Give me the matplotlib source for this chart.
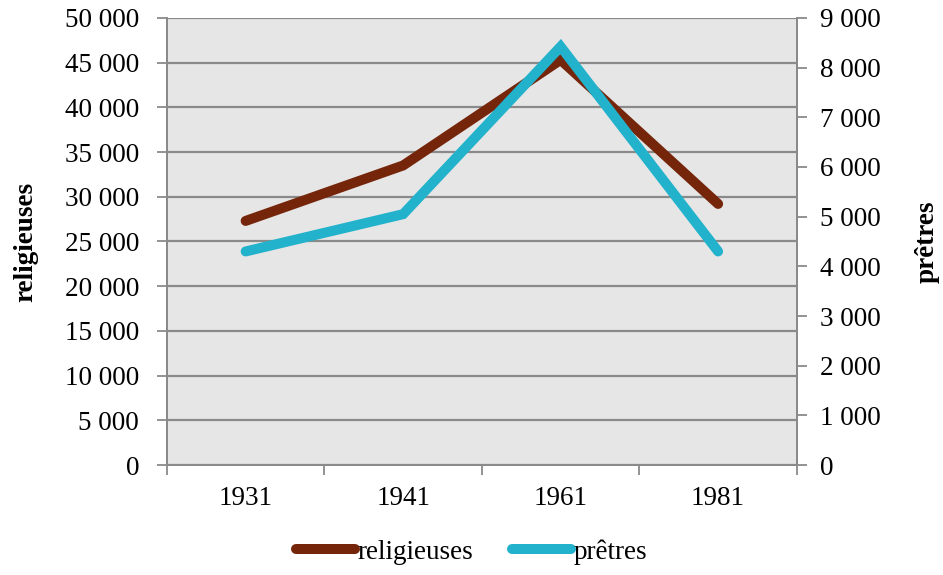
import matplotlib
matplotlib.use("Agg")
import matplotlib.pyplot as plt
from matplotlib.ticker import FuncFormatter, MultipleLocator

# données
annees = ["1931", "1941", "1961", "1981"]
religieuses = [27300, 33500, 45300, 29200]
pretres = [4300, 5050, 8420, 4300]

plt.rcParams['font.family'] = ['Liberation Serif', 'DejaVu Serif']

brun = "#74250a"
cyan = "#22b2cb"
gris = "#8a8a8a"
taille = 19.5

def milliers(v, pos):
    return f"{int(v):,}".replace(",", " ")

fig = plt.figure(figsize=(9.43, 5.75), dpi=100)
ax = fig.add_axes([0.177, 0.191, 0.668, 0.778])
ax2 = ax.twinx()

x = list(range(len(annees)))
l1, = ax.plot(x, religieuses, color=brun, lw=7.2, solid_capstyle="round",
              solid_joinstyle="miter", zorder=3)
l2, = ax2.plot(x, pretres, color=cyan, lw=7.2, solid_capstyle="round",
               solid_joinstyle="miter", zorder=3)

ax.set_xlim(-0.5, 3.5)
ax.set_ylim(0, 50000)
ax2.set_ylim(0, 9000)
ax.yaxis.set_major_locator(MultipleLocator(5000))
ax2.yaxis.set_major_locator(MultipleLocator(1000))
ax.yaxis.set_major_formatter(FuncFormatter(milliers))
ax2.yaxis.set_major_formatter(FuncFormatter(milliers))

ax.set_facecolor("#e6e6e6")
ax.grid(axis="y", color=gris, lw=1.6)
ax.set_axisbelow(True)

# ticks de catégories entre les années
ax.set_xticks([i - 0.5 for i in range(len(annees) + 1)])
ax.set_xticklabels([])
ax.set_xticks(x, minor=True)
ax.set_xticklabels(annees, minor=True, fontsize=taille)
ax.tick_params(axis="x", which="minor", length=0, pad=15)
ax.tick_params(axis="x", which="major", length=7, color=gris, width=1.3)
ax.tick_params(axis="y", length=7, color=gris, width=1.3, labelsize=taille, pad=13)
ax2.tick_params(axis="y", length=7, color=gris, width=1.3, labelsize=taille, pad=10)

for a in (ax, ax2):
    for s in a.spines.values():
        s.set_color(gris)
        s.set_linewidth(1.3)
    a.spines["top"].set_visible(False)

ax.set_ylabel("religieuses", fontsize=taille, fontweight="bold", labelpad=19)
ax2.set_ylabel("prêtres", fontsize=taille, fontweight="bold", labelpad=24)

fig.legend([l1, l2], ["religieuses", "prêtres"], loc="center",
           bbox_to_anchor=(0.5, 0.04), ncol=2, frameon=False, fontsize=taille,
           handlelength=2.2, handletextpad=0.1, columnspacing=1.4)

fig.savefig("out.png", dpi=100)
